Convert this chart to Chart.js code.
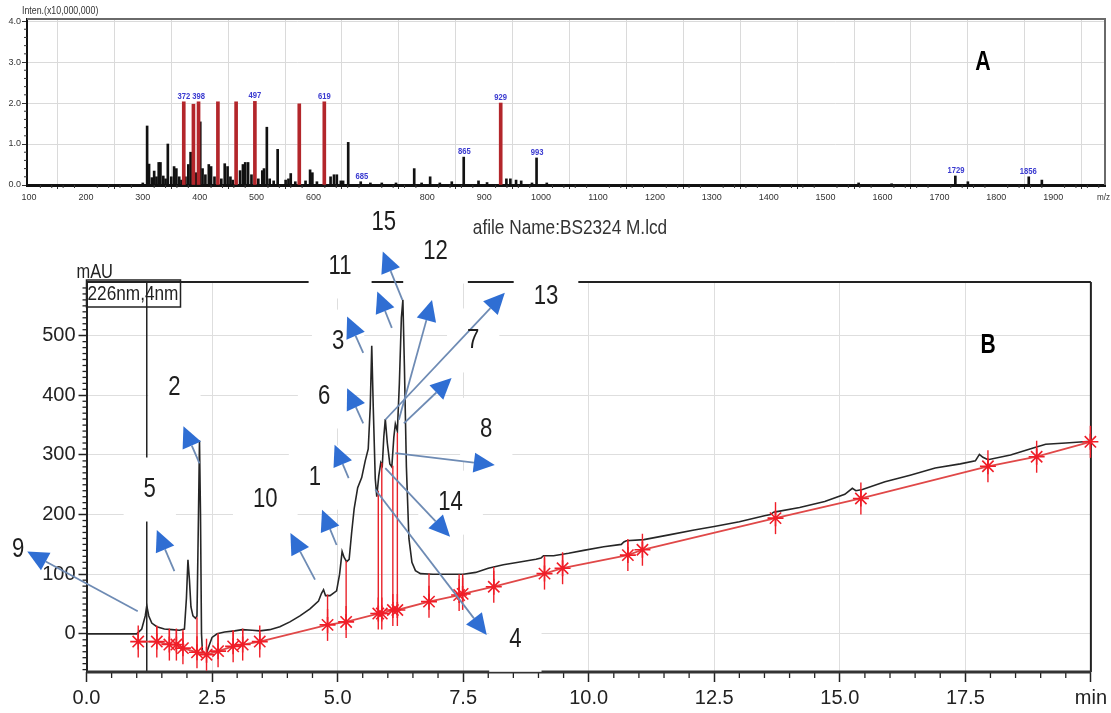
<!DOCTYPE html>
<html><head><meta charset="utf-8">
<script src="https://cdn.jsdelivr.net/npm/chart.js@4.4.1/dist/chart.umd.min.js"></script>
<style>
html,body{margin:0;padding:0;background:#fff;width:1111px;height:713px;overflow:hidden;}
#a{position:absolute;left:0;top:0;}
#b{position:absolute;left:0;top:200px;}
</style></head><body>
<canvas id="a" width="1111" height="215"></canvas>
<canvas id="b" width="1111" height="513"></canvas>
<script>
// ---------- Panel A : mass spectrum ----------
const mzTicks = [100,200,300,400,500,600,700,800,900,1000,1100,1200,1300,1400,1500,1600,1700,1800,1900];
const mzTickLabels = ['100','200','300','400','500','600','','800','900','1000','1100','1200','1300','1400','1500','1600','1700','1800','1900'];
const intTicks = [0,1,2,3,4];
const blackMz = [300,307.6,311,316,320,324,328,331,336,340,344,350,355,359,364,368,375,380,384,393,401,405,410,416,420,426,438,444,449,454,458,471,476,480,485,491,503,510,513,518,523,530,537,551,556,560,568,586,594,598,606,630,636,641,648,652,661,683,700,720,745,777,790,805,822,843,864,890,905,939,946,956,965,984,992,1010,1558,1616,1728,1750,1857,1880];
const blackInt = [0.05,1.44,0.51,0.18,0.34,0.2,0.55,0.55,0.22,0.15,1.0,0.2,0.45,0.4,0.2,0.12,0.2,0.5,0.8,0.3,1.54,0.4,0.25,0.5,0.45,0.2,0.15,0.52,0.45,0.2,0.12,0.35,0.5,0.55,0.55,0.25,0.15,0.35,0.4,1.41,0.15,0.1,0.87,0.12,0.15,0.28,0.08,0.1,0.37,0.3,0.08,0.2,0.25,0.25,0.1,0.1,1.04,0.08,0.05,0.05,0.05,0.4,0.05,0.2,0.05,0.08,0.68,0.1,0.06,0.15,0.15,0.12,0.1,0.05,0.66,0.05,0.05,0.03,0.22,0.08,0.2,0.12];
const redMz = [372,389,398,432,464,497,575,619,929];
const redInt = [2.03,1.97,2.03,2.03,2.03,2.04,1.98,2.03,2.0];
const peakLabelMz = [372,398,497,619,685,865,929,993,1729,1856];
const peakLabelInt = [2.03,2.03,2.04,2.03,0.08,0.68,2.0,0.66,0.22,0.2];

// ---------- Panel B : chromatogram ----------
const timeTicks = [0,2.5,5,7.5,10,12.5,15,17.5,20];
const mauTicks = [0,100,200,300,400,500];
const traceT = [0,1.00,1.10,1.17,1.20,1.24,1.30,1.40,1.55,1.70,1.85,1.95,1.99,2.02,2.05,2.08,2.12,2.17,2.20,2.23,2.25,2.27,2.29,2.31,2.38,2.44,2.50,2.60,2.75,2.95,3.10,3.30,3.45,3.65,3.85,4.05,4.25,4.45,4.62,4.68,4.72,4.76,4.85,4.98,5.04,5.09,5.13,5.18,5.23,5.28,5.33,5.40,5.48,5.55,5.61,5.65,5.68,5.71,5.75,5.78,5.82,5.86,5.89,5.92,5.95,5.99,6.04,6.08,6.12,6.15,6.19,6.23,6.27,6.30,6.33,6.37,6.42,6.48,6.55,6.65,6.90,7.20,7.50,7.75,8.00,8.30,8.60,8.95,9.05,9.10,9.30,9.60,9.90,10.30,10.65,10.70,10.75,11.10,11.60,12.10,12.50,13.00,13.50,13.62,13.68,13.75,14.20,14.70,15.10,15.25,15.32,15.45,15.90,16.40,16.90,17.40,17.70,17.78,17.85,17.95,18.40,18.90,19.10,19.50,20.00];
const traceV = [0,0,8,30,47,30,18,12,8,7,6,8,60,124,90,45,30,26,30,200,324,200,0,-33,-35,-20,-6,0,3,5,7,6,5,7,12,20,30,42,55,68,74,64,64,72,100,138,128,121,125,170,210,245,262,290,310,380,483,380,260,230,265,287,282,330,360,320,285,280,330,352,340,420,530,560,450,280,160,120,106,101,100,100,100,103,110,116,120,125,127,131,131,135,140,146,150,154,156,158,166,174,180,188,198,200,204,205,212,222,234,244,240,242,255,266,278,285,290,301,296,292,300,313,318,320,323];
const baseT = [1.03,1.40,1.65,1.79,1.92,2.20,2.39,2.62,2.92,3.11,3.45,4.80,5.17,5.81,5.88,6.10,6.19,6.82,7.42,7.49,8.11,9.12,9.48,10.78,11.07,13.72,15.42,17.95,18.92,19.99];
const baseV = [-13,-13,-18,-18,-24,-31,-35,-29,-21,-18,-13,15,20,34,34,40,40,54,65,67,79,101,110,132,141,194,227,281,297,322];
const dropTop = [2,12,7,7,7,28,-35,1,5,7,5,66,122,240,287,282,337,101,100,100,112,131,133,156,158,205,242,292,313,323];
const markerT = 1.2;

// annotations (peak numbers with arrows), in data units
const labelText = ['9','5','2','10','1','6','3','11','15','12','13','7','8','14','4'];
const labelT = [-1.36,1.26,1.75,3.56,4.55,4.73,5.01,5.05,5.92,6.95,9.15,7.70,7.96,7.25,8.54];
const labelV = [141,242,413,225,262,398,490,616,690,641,565,492,342,220,-10];
const labelBox = [false,true,true,true,true,true,true,true,false,true,true,true,true,true,true];
const arrowFromT = [1.02,1.75,2.25,4.55,4.98,5.22,5.51,5.51,6.08,6.29,6.22,5.95,6.32,6.15,5.95,5.75];
const arrowFromV = [38,105,286,91,149,261,353,471,513,560,359,359,353,303,278,242];
const arrowToT = [-1.18,1.40,1.93,4.06,4.69,4.94,5.19,5.19,5.79,5.90,6.88,8.33,7.27,8.13,7.24,7.97];
const arrowToV = [138,174,348,169,208,317,412,532,574,641,560,572,429,283,163,-2];

const SANS = "'Liberation Sans',Arial,sans-serif";
const SQ = 0.82; // horizontal squeeze to mimic a narrow face

function seg(ctx,x1,y1,x2,y2){ctx.beginPath();ctx.moveTo(x1,y1);ctx.lineTo(x2,y2);ctx.stroke();}
function txt(ctx,s,x,y,font,sx,align,base,color){
  ctx.save(); ctx.font=font; ctx.fillStyle=color; ctx.textAlign=align; ctx.textBaseline=base;
  ctx.translate(x,y); ctx.scale(sx,1); ctx.fillText(s,0,0); ctx.restore();
}

const pluginA = {
  id:'pa',
  afterDraw(chart){
    const {ctx, chartArea:ca, scales:{x,y}} = chart;
    ctx.save();
    ctx.strokeStyle='#6a6a6a'; ctx.lineWidth=2;
    ctx.beginPath(); ctx.moveTo(ca.left,ca.top); ctx.lineTo(ca.right,ca.top); ctx.lineTo(ca.right,ca.bottom); ctx.stroke();
    ctx.strokeStyle='#333'; ctx.lineWidth=1;
    for(let m=120;m<1990;m+=20){ if(m%100===0) continue; const px=x.getPixelForValue(m); seg(ctx,px,ca.bottom,px,ca.bottom+3); }
    for(let i=1;i<20;i++){ if(i%5===0) continue; const py=y.getPixelForValue(i*0.2); seg(ctx,ca.left-3,py,ca.left,py); }
    ctx.restore();
    peakLabelMz.forEach((m,i)=>txt(ctx,String(m),x.getPixelForValue(m),y.getPixelForValue(peakLabelInt[i])-1,'bold 9px '+SANS,0.85,'center','bottom','#3a3ad0'));
    txt(ctx,'Inten.(x10,000,000)',22,11,'10px '+SANS,0.88,'left','middle','#333');
    txt(ctx,'m/z',1110,198,'9px '+SANS,0.9,'right','middle','#333');
    txt(ctx,'A',983,62,'bold 28px '+SANS,0.76,'center','middle','#000');
  }
};

new Chart(document.getElementById('a'), {
  type:'bar',
  data:{datasets:[
    {label:'ions', data:blackMz.map((m,i)=>({x:m,y:blackInt[i]})), backgroundColor:'#111', barThickness:2, grouped:false, order:2},
    {label:'selected ions', data:redMz.map((m,i)=>({x:m,y:redInt[i]})), backgroundColor:'#b3262b', barThickness:3, grouped:false, order:1}
  ]},
  options:{
    responsive:false, animation:false,
    layout:{padding:{top:19,right:6,left:0,bottom:0}},
    plugins:{legend:{display:false}, tooltip:{enabled:false}},
    scales:{
      x:{type:'linear', min:96.5, max:1991, offset:false,
        afterBuildTicks(ax){ax.ticks=mzTicks.map(v=>({value:v}));},
        afterFit(ax){ax.height=30;},
        grid:{color:'#dadada', tickLength:4, tickColor:'#333'},
        border:{color:'#111', width:3},
        ticks:{autoSkip:false, maxRotation:0, padding:3, color:'#333', font:{family:SANS,size:9},
          callback:(v)=>{const i=mzTicks.indexOf(v); return i>=0?mzTickLabels[i]:'';}}
      },
      y:{min:0, max:4.05,
        afterBuildTicks(ax){ax.ticks=intTicks.map(v=>({value:v}));},
        afterFit(ax){ax.width=27;},
        grid:{color:'#dadada', tickLength:5, tickColor:'#333'},
        border:{color:'#111', width:2},
        ticks:{padding:1, color:'#333', font:{family:SANS,size:9}, callback:v=>Number(v).toFixed(1)}
      }
    }
  },
  plugins:[pluginA]
});

function drawArrow(ctx,x1,y1,x2,y2){
  const ang=Math.atan2(y2-y1,x2-x1), L=21, W=10;
  const bx=x2-L*Math.cos(ang), by=y2-L*Math.sin(ang);
  ctx.strokeStyle='#6e8bb4'; ctx.lineWidth=1.8;
  seg(ctx,x1,y1,bx,by);
  ctx.fillStyle='#2f6ed3';
  ctx.beginPath(); ctx.moveTo(x2,y2);
  ctx.lineTo(bx+W*Math.sin(ang), by-W*Math.cos(ang));
  ctx.lineTo(bx-W*Math.sin(ang), by+W*Math.cos(ang));
  ctx.closePath(); ctx.fill();
}

const LABEL_FONT = '27px '+SANS;
const pluginB = {
  id:'pb',
  beforeDatasetsDraw(chart){
    const {ctx, chartArea:ca, scales:{x,y}} = chart;
    ctx.save();
    ctx.strokeStyle='#222'; ctx.lineWidth=1.3;
    for(let i=1;i<40;i++){ if(i%5===0) continue; const px=x.getPixelForValue(i*0.5); seg(ctx,px,ca.bottom,px,ca.bottom+6); }
    for(let v=-60;v<=580;v+=10){ if(v%100===0) continue; const py=y.getPixelForValue(v); seg(ctx,ca.left-4,py,ca.left,py); }
    ctx.strokeStyle='#222'; ctx.lineWidth=1.5;
    seg(ctx,x.getPixelForValue(markerT),ca.top,x.getPixelForValue(markerT),ca.bottom);
    ctx.lineWidth=2;
    seg(ctx,ca.left,ca.top,ca.right,ca.top);
    seg(ctx,ca.right,ca.top,ca.right,ca.bottom);
    ctx.lineWidth=3; ctx.strokeStyle='#333';
    seg(ctx,ca.left,ca.bottom,ca.right,ca.bottom);
    ctx.font=LABEL_FONT; ctx.fillStyle='#fff';
    labelText.forEach((t,i)=>{
      if(!labelBox[i]) return;
      const w=ctx.measureText(t).width*SQ+40, h=64;
      const cx=x.getPixelForValue(labelT[i]), cy=y.getPixelForValue(labelV[i]);
      ctx.fillRect(cx-w/2,cy-h/2,w,h);
    });
    ctx.restore();
  },
  afterDatasetsDraw(chart){
    const {ctx, chartArea:ca, scales:{x,y}} = chart;
    ctx.save();
    arrowFromT.forEach((t,i)=>drawArrow(ctx,x.getPixelForValue(t),y.getPixelForValue(arrowFromV[i]),x.getPixelForValue(arrowToT[i]),y.getPixelForValue(arrowToV[i])));
    ctx.restore();
    labelText.forEach((t,i)=>txt(ctx,t,x.getPixelForValue(labelT[i]),y.getPixelForValue(labelV[i]),LABEL_FONT,SQ,'center','middle','#1e1e1e'));
    txt(ctx,'mAU',ca.left-10,ca.top-4,'20px '+SANS,SQ,'left','alphabetic','#222');
    ctx.save(); ctx.strokeStyle='#222'; ctx.lineWidth=1.5; ctx.strokeRect(ca.left,ca.top-2,94,27); ctx.restore();
    txt(ctx,'226nm,4nm',ca.left+1,ca.top+12,'21px '+SANS,SQ,'left','middle','#222');
    txt(ctx,'B',988,146,'bold 27px '+SANS,0.78,'center','middle','#000');
    txt(ctx,'afile Name:BS2324 M.lcd',570,28,'21px '+SANS,SQ,'center','middle','#333');
  }
};

const drops = [];
baseT.forEach((t,i)=>{ drops.push({x:t,y:baseV[i]},{x:t,y:dropTop[i]},{x:t,y:null}); });

new Chart(document.getElementById('b'), {
  type:'scatter',
  data:{datasets:[
    {label:'226nm', data:traceT.map((t,i)=>({x:t,y:traceV[i]})), showLine:true, borderColor:'#262626', borderWidth:1.6, pointRadius:0, order:4},
    {label:'drop lines', data:drops, showLine:true, spanGaps:false, borderColor:'#e8232b', borderWidth:1.4, pointRadius:0, order:3},
    {label:'baseline', data:baseT.map((t,i)=>({x:t,y:baseV[i]})), showLine:true, borderColor:'#e04848', borderWidth:1.8,
      pointStyle:'star', pointRadius:8, pointBorderColor:'#f01e28', pointBackgroundColor:'#f01e28', pointBorderWidth:1.6, clip:false, order:2},
    {label:'baseline marks', data:baseT.map((t,i)=>({x:t,y:baseV[i]})), showLine:false,
      pointStyle:'line', pointRotation:90, pointRadius:16, pointBorderColor:'#f01e28', pointBorderWidth:1.4, clip:false, order:1}
  ]},
  options:{
    responsive:false, animation:false,
    layout:{padding:{top:82,right:16,left:0,bottom:0}},
    plugins:{legend:{display:false}, tooltip:{enabled:false}},
    scales:{
      x:{type:'linear', min:0, max:20,
        afterBuildTicks(ax){ax.ticks=timeTicks.map(v=>({value:v}));},
        afterFit(ax){ax.height=41;},
        grid:{color:'#dedede', tickLength:10, tickColor:'#222', tickWidth:1.5},
        border:{display:false},
        ticks:{autoSkip:false, maxRotation:0, padding:4, color:'#222', font:{family:SANS,size:20},
          callback:v=>v===20?'min':Number(v).toFixed(1)}
      },
      y:{min:-64, max:590,
        afterBuildTicks(ax){ax.ticks=mauTicks.map(v=>({value:v}));},
        afterFit(ax){ax.width=86.5;},
        grid:{color:'#dedede', tickLength:8, tickColor:'#222', tickWidth:1.5},
        border:{color:'#222', width:2},
        ticks:{padding:3, color:'#222', font:{family:SANS,size:20}}
      }
    }
  },
  plugins:[pluginB]
});
</script>
</body></html>
